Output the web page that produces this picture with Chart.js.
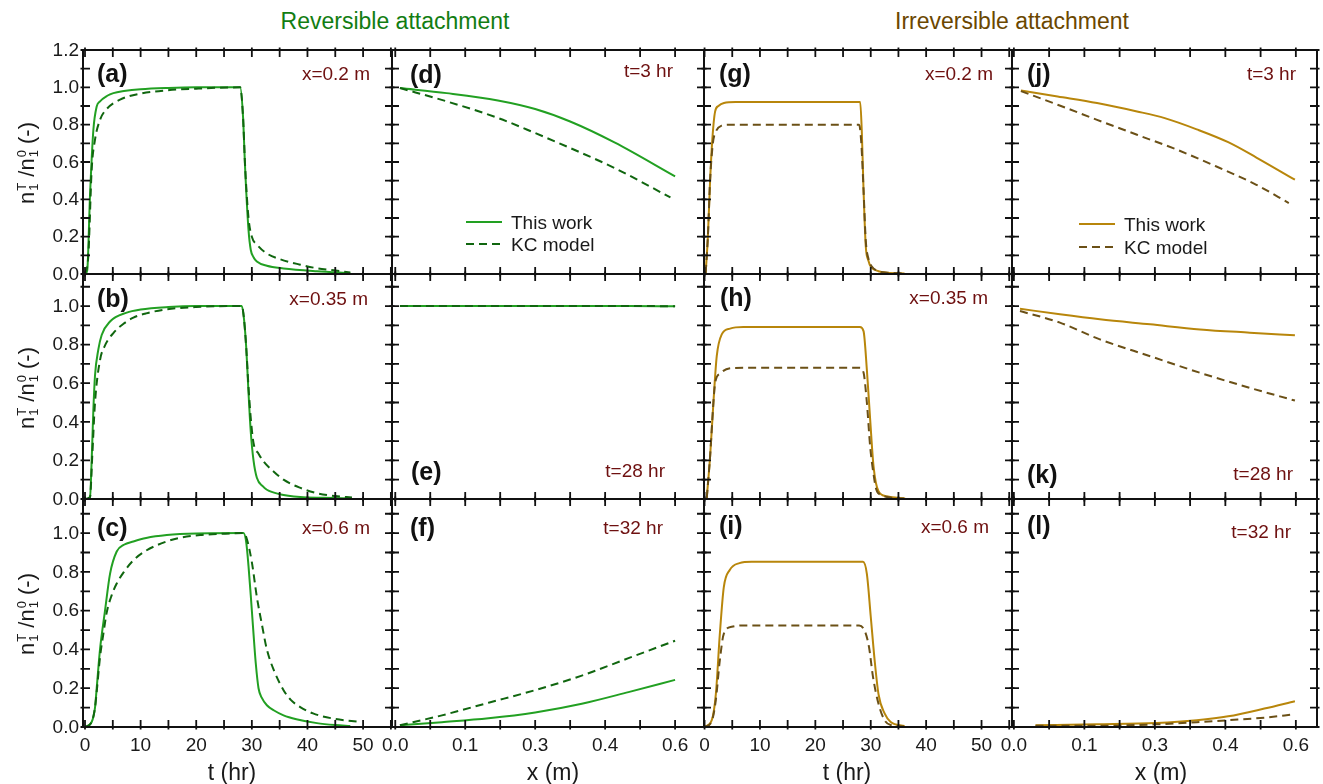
<!DOCTYPE html>
<html><head><meta charset="utf-8">
<script src="https://cdn.jsdelivr.net/npm/chart.js@4.4.1/dist/chart.umd.min.js"></script>
<style>
html,body{margin:0;padding:0;background:#fff;}
#wrap{position:relative;width:1323px;height:784px;overflow:hidden;font-family:"Liberation Sans",Arial,sans-serif;background:#fff;}
canvas{position:absolute;}
.t{position:absolute;white-space:nowrap;line-height:1;}
.lab{font-weight:bold;font-size:25px;color:#111;}
.ann{font-size:19px;color:#6e1010;}
.hdr{font-size:23px;}
.axt{font-size:23px;color:#1a1a1a;}
.leg{font-size:19px;color:#1a1a1a;}
.ytitle{position:absolute;white-space:nowrap;font-size:22px;color:#1a1a1a;line-height:1;transform:translate(-50%,-50%) rotate(-90deg);}
.ss{display:inline-flex;flex-direction:column;font-size:13px;line-height:12px;vertical-align:8px;margin-left:1px;}
svg{position:absolute;overflow:visible;}
</style></head><body><div id="wrap"></div>
<script>
// ---------------- data ----------------
// (a) x = 0.2 m, reversible
const aSolidT = [0,0.4,0.9,1.5,2.1,2.7,4,5.1,7,10,15,20,27.9,28.4,28.8,29.4,29.8,30.3,30.9,32.7,35.7,41.7,47.7];
const aSolidV = [0,0.02,0.42,0.77,0.897,0.925,0.955,0.969,0.98,0.99,0.997,1.0,1.0,0.85,0.56,0.236,0.13,0.09,0.067,0.044,0.03,0.015,0.005];
const aDashT  = [0,0.6,1.2,1.8,2.7,3.9,6.3,9.9,14.7,20,27.9,28.4,28.8,29.4,30,31,32.7,35,38.7,41.5,44.7,47.7];
const aDashV  = [0,0.1,0.56,0.72,0.826,0.884,0.934,0.966,0.984,0.993,1.0,0.85,0.57,0.3,0.2,0.155,0.11,0.08,0.05,0.032,0.02,0.008];
// (b) x = 0.35 m, reversible
const bSolidT = [0,0.9,1.2,1.5,1.8,2.4,3,4.5,7.5,10,15,20,28.2,28.6,29,29.4,29.8,30.3,30.9,32,32.7,35,38.7,43,48];
const bSolidV = [0,0.01,0.2,0.46,0.64,0.775,0.85,0.92,0.966,0.982,0.995,1.0,1.0,0.93,0.78,0.55,0.35,0.2,0.11,0.065,0.048,0.025,0.01,0.006,0.003];
const bDashT  = [0,0.9,1.3,1.8,2.7,3.5,5.1,7,8.7,11,14.7,20,28.2,28.6,29,29.4,29.8,30.3,31.2,32.1,34,35.7,38.5,41.7,45,48];
const bDashV  = [0,0.01,0.22,0.5,0.72,0.79,0.86,0.91,0.94,0.962,0.983,0.995,1.0,0.93,0.78,0.58,0.42,0.29,0.235,0.195,0.14,0.1,0.06,0.03,0.015,0.008];
// (c) x = 0.6 m, reversible
const cSolidT = [0,1.2,1.8,2.1,2.7,3.6,4.5,5.7,7,8.7,11,14.7,20,28.5,29,29.4,29.8,30.3,30.7,31.2,31.8,32.7,34,35.7,38,41.7,45,47.7];
const cSolidV = [0,0.026,0.1,0.2,0.4,0.6,0.79,0.905,0.94,0.957,0.975,0.99,0.998,1.0,0.95,0.83,0.68,0.48,0.33,0.2,0.15,0.112,0.085,0.06,0.04,0.02,0.01,0.005];
const cDashT  = [0,1.2,1.8,2.1,2.7,3.3,3.9,4.8,5.7,7,8.7,11,14.7,17,20.7,25,28.5,29.1,30,30.9,31.8,32.7,34,35.7,37,38.7,41,44.7,49.5];
const cDashV  = [0,0.026,0.1,0.18,0.36,0.48,0.59,0.68,0.74,0.8,0.86,0.91,0.957,0.975,0.99,0.997,1.0,0.97,0.85,0.67,0.53,0.4,0.29,0.19,0.14,0.103,0.07,0.043,0.026];
// (d) t = 3 hr, reversible
const dSolidX = [0.01,0.11,0.22,0.3,0.375,0.47,0.6];
const dSolidV = [0.996,0.969,0.93,0.884,0.817,0.705,0.523];
const dDashX  = [0.01,0.11,0.22,0.3,0.375,0.47,0.59];
const dDashV  = [0.996,0.925,0.836,0.755,0.675,0.568,0.41];
// (e) t = 28 hr, reversible
const eSolidX = [0.01,0.1,0.2,0.3,0.4,0.5,0.6];
const eSolidV = [1.0,1.0,1.0,1.0,1.0,1.0,0.999];
const eDashX  = [0.01,0.1,0.2,0.3,0.4,0.5,0.6];
const eDashV  = [1.0,1.0,1.0,1.0,1.0,1.0,0.999];
// (f) t = 32 hr, reversible
const fSolidX = [0.01,0.1,0.2,0.3,0.4,0.5,0.6];
const fSolidV = [0.009,0.025,0.045,0.075,0.12,0.18,0.243];
const fDashX  = [0.01,0.1,0.2,0.3,0.4,0.5,0.6];
const fDashV  = [0.009,0.06,0.125,0.19,0.265,0.355,0.445];
// (g) x = 0.2 m, irreversible
const gSolidT = [0.2,0.6,1.0,1.4,1.9,2.5,3.5,5.6,28.1,28.4,28.7,29.1,29.6,30,31.4,33,36.1];
const gSolidV = [0.005,0.2,0.5,0.72,0.87,0.9,0.916,0.921,0.921,0.75,0.45,0.15,0.07,0.04,0.015,0.007,0.003];
const gDashT  = [0.2,0.6,1.0,1.5,2.0,3.1,4.5,27.9,28.3,28.7,29.1,29.6,30.2,31.4,33,36];
const gDashV  = [0.005,0.2,0.5,0.7,0.76,0.795,0.8,0.8,0.7,0.45,0.18,0.08,0.04,0.015,0.007,0.003];
// (h) x = 0.35 m, irreversible
const hSolidT = [0.4,1.0,1.6,2.2,3.1,4.6,7,28.05,28.7,29.3,29.9,30.5,31.4,32.9,36.2];
const hSolidV = [0.005,0.22,0.5,0.74,0.853,0.883,0.891,0.891,0.87,0.67,0.41,0.17,0.04,0.014,0.002];
const hDashT  = [0.4,1.0,1.6,1.9,2.8,4.6,7,28,28.7,29.3,29.9,30.5,31,32,34,36];
const hDashV  = [0.005,0.22,0.5,0.6,0.65,0.677,0.68,0.68,0.655,0.5,0.27,0.13,0.05,0.02,0.006,0.002];
// (i) x = 0.6 m, irreversible
const iSolidT = [0,1.3,2.04,2.76,3.47,4.55,6.3,8.5,28.6,29.3,30,30.7,31.4,32.5,33.6,36.1];
const iSolidV = [0,0.035,0.17,0.48,0.72,0.81,0.845,0.852,0.852,0.79,0.57,0.345,0.17,0.07,0.026,0.005];
const iDashT  = [0,1.3,2.04,2.76,3.47,4.9,7.8,27.9,29.0,29.7,30.4,31.4,32.5,33.6,36];
const iDashV  = [0,0.03,0.14,0.345,0.48,0.517,0.524,0.524,0.49,0.41,0.26,0.12,0.035,0.01,0.003];
// (j) t = 3 hr, irreversible
const jSolidX = [0.015,0.093,0.177,0.262,0.321,0.389,0.456,0.516,0.598];
const jSolidV = [0.983,0.951,0.916,0.871,0.835,0.775,0.706,0.624,0.505];
const jDashX  = [0.015,0.093,0.177,0.262,0.347,0.431,0.516,0.585];
const jDashV  = [0.98,0.907,0.826,0.746,0.666,0.576,0.478,0.38];
// (k) t = 28 hr, irreversible
const kSolidX = [0.013,0.098,0.183,0.29,0.396,0.502,0.598];
const kSolidV = [0.986,0.957,0.931,0.905,0.879,0.862,0.848];
const kDashX  = [0.013,0.098,0.183,0.29,0.396,0.502,0.598];
const kDashV  = [0.974,0.914,0.827,0.74,0.654,0.576,0.51];
// (l) t = 32 hr, irreversible
const lSolidX = [0.046,0.177,0.304,0.389,0.456,0.533,0.598];
const lSolidV = [0.009,0.014,0.021,0.035,0.055,0.095,0.133];
const lDashX  = [0.046,0.177,0.304,0.389,0.456,0.533,0.598];
const lDashV  = [0.006,0.006,0.014,0.025,0.035,0.048,0.066];

// ticks and tick labels
const tTicks = [0,5,10,15,20,25,30,35,40,45,50,55];
const xTicks = [0,0.075,0.15,0.225,0.3,0.375,0.45,0.525,0.6];
const yTicks = [0,0.1,0.2,0.3,0.4,0.5,0.6,0.7,0.8,0.9,1.0,1.1,1.2];
const tLabelValues = [0,10,20,30,40,50];
const tLabels = ['0','10','20','30','40','50'];
const xLabelValues = [0,0.15,0.3,0.45,0.6];
const xLabels = ['0.0','0.1','0.3','0.4','0.6'];
const yLabelValuesTop = [0,0.2,0.4,0.6,0.8,1.0,1.2];
const yLabelsTop = ['0.0','0.2','0.4','0.6','0.8','1.0','1.2'];
const yLabelValues = [0,0.2,0.4,0.6,0.8,1.0];
const yLabels = ['0.0','0.2','0.4','0.6','0.8','1.0'];

// ---------------- layout ----------------
const colLeft  = [83, 392, 704, 1012];
const colRight = [392, 704, 1012, 1317];
const rowTop    = [50, 274, 499];
const rowBottom = [274, 499, 727];
const xRanges = [[-0.36,55.2],[-0.007,0.662],[-0.1,55.5],[-0.004,0.645]];
const yRanges = [[0,1.2],[0,1.166],[0,1.176]];
const COLORS = {
  green: {solid:'#22a022', dash:'#10660f'},
  brown: {solid:'#b8860b', dash:'#6b5016'}
};

const panels = [
  {r:0,c:0,fam:'green',s:[aSolidT,aSolidV],d:[aDashT,aDashV]},
  {r:1,c:0,fam:'green',s:[bSolidT,bSolidV],d:[bDashT,bDashV]},
  {r:2,c:0,fam:'green',s:[cSolidT,cSolidV],d:[cDashT,cDashV]},
  {r:0,c:1,fam:'green',s:[dSolidX,dSolidV],d:[dDashX,dDashV]},
  {r:1,c:1,fam:'green',s:[eSolidX,eSolidV],d:[eDashX,eDashV]},
  {r:2,c:1,fam:'green',s:[fSolidX,fSolidV],d:[fDashX,fDashV]},
  {r:0,c:2,fam:'brown',s:[gSolidT,gSolidV],d:[gDashT,gDashV]},
  {r:1,c:2,fam:'brown',s:[hSolidT,hSolidV],d:[hDashT,hDashV]},
  {r:2,c:2,fam:'brown',s:[iSolidT,iSolidV],d:[iDashT,iDashV]},
  {r:0,c:3,fam:'brown',s:[jSolidX,jSolidV],d:[jDashX,jDashV]},
  {r:1,c:3,fam:'brown',s:[kSolidX,kSolidV],d:[kDashX,kDashV]},
  {r:2,c:3,fam:'brown',s:[lSolidX,lSolidV],d:[lDashX,lDashV]}
];

const framePlugin = {
  id: 'frame',
  afterDatasetsDraw(chart) {
    const p = chart.options.plugins.frame;
    const {ctx, chartArea: a} = chart;
    const xs = chart.scales.x, ys = chart.scales.y;
    const IN = 7, OUT = 2.5;
    ctx.save();
    ctx.strokeStyle = '#111';
    ctx.lineWidth = 2;
    ctx.strokeRect(a.left, a.top, a.right - a.left, a.bottom - a.top);
    ctx.lineWidth = 1.8;
    ctx.beginPath();
    p.yTicks.forEach(v => {
      const py = ys.getPixelForValue(v);
      if (py < a.top - 0.6 || py > a.bottom + 0.6) return;
      ctx.moveTo(a.left - OUT, py); ctx.lineTo(a.left + IN, py);
      ctx.moveTo(a.right - IN, py); ctx.lineTo(a.right + OUT, py);
    });
    p.xTicks.forEach(v => {
      const px = xs.getPixelForValue(v);
      if (px < a.left - 0.6 || px > a.right + 0.6) return;
      ctx.moveTo(px, a.bottom + OUT); ctx.lineTo(px, a.bottom - IN);
      ctx.moveTo(px, a.top - OUT); ctx.lineTo(px, a.top + IN);
    });
    ctx.stroke();
    ctx.fillStyle = '#1a1a1a';
    ctx.font = '19px "Liberation Sans", Arial, sans-serif';
    if (p.yLab) {
      ctx.textAlign = 'right'; ctx.textBaseline = 'middle';
      p.yLab.values.forEach((v, i) => ctx.fillText(p.yLab.text[i], a.left - 4, ys.getPixelForValue(v) + 0.5));
    }
    if (p.xLab) {
      ctx.textAlign = 'center'; ctx.textBaseline = 'middle';
      p.xLab.values.forEach((v, i) => ctx.fillText(p.xLab.text[i], xs.getPixelForValue(v), a.bottom + 19));
    }
    ctx.restore();
  }
};

const wrap = document.getElementById('wrap');
panels.forEach(P => {
  const padL = P.c === 0 ? 80 : 12, padR = 12, padT = 12, padB = P.r === 2 ? 40 : 12;
  const w = colRight[P.c] - colLeft[P.c] + padL + padR;
  const h = rowBottom[P.r] - rowTop[P.r] + padT + padB;
  const cv = document.createElement('canvas');
  cv.width = w; cv.height = h;
  cv.style.left = (colLeft[P.c] - padL) + 'px';
  cv.style.top = (rowTop[P.r] - padT) + 'px';
  cv.style.width = w + 'px'; cv.style.height = h + 'px';
  wrap.appendChild(cv);
  const col = COLORS[P.fam];
  const isTime = (P.c === 0 || P.c === 2);
  const pts = (xa, va) => xa.map((x, i) => ({x: x, y: va[i]}));
  new Chart(cv, {
    type: 'line',
    data: { datasets: [
      { label: 'KC model', data: pts(P.d[0], P.d[1]), borderColor: col.dash, borderWidth: 2, borderDash: [8,5], pointRadius: 0, fill: false, cubicInterpolationMode: 'monotone' },
      { label: 'This work', data: pts(P.s[0], P.s[1]), borderColor: col.solid, borderWidth: 2, pointRadius: 0, fill: false, cubicInterpolationMode: 'monotone' }
    ]},
    options: {
      responsive: false, animation: false, events: [],
      devicePixelRatio: 1,
      layout: { padding: { left: padL, right: padR, top: padT, bottom: padB } },
      scales: {
        x: { type: 'linear', display: false, min: xRanges[P.c][0], max: xRanges[P.c][1] },
        y: { type: 'linear', display: false, min: yRanges[P.r][0], max: yRanges[P.r][1] }
      },
      plugins: {
        legend: { display: false }, tooltip: { enabled: false }, title: { display: false },
        frame: {
          xTicks: isTime ? tTicks : xTicks,
          yTicks: yTicks,
          yLab: P.c === 0 ? (P.r === 0 ? {values: yLabelValuesTop, text: yLabelsTop} : {values: yLabelValues, text: yLabels}) : null,
          xLab: P.r === 2 ? (isTime ? {values: tLabelValues, text: tLabels} : {values: xLabelValues, text: xLabels}) : null
        }
      }
    },
    plugins: [framePlugin]
  });
});

// ---------------- texts ----------------
function addText(cls, txt, opt) {
  const d = document.createElement('div');
  d.className = 't ' + cls;
  d.innerHTML = txt;
  if (opt.color) d.style.color = opt.color;
  if (opt.left !== undefined) d.style.left = opt.left + 'px';
  if (opt.right !== undefined) d.style.right = (1323 - opt.right) + 'px';
  if (opt.cx !== undefined) { d.style.left = opt.cx + 'px'; }
  d.style.top = opt.cy + 'px';
  d.style.transform = opt.cx !== undefined ? 'translate(-50%,-50%)' : 'translateY(-50%)';
  wrap.appendChild(d);
}
addText('hdr', 'Reversible attachment', {cx: 395, cy: 21, color: '#127d12'});
addText('hdr', 'Irreversible attachment', {cx: 1012, cy: 21, color: '#6b4700'});

const letters = [
  ['(a)',97,73],['(b)',97,298],['(c)',97,527],
  ['(d)',410,74],['(e)',411,471],['(f)',410,527],
  ['(g)',719,73],['(h)',720,297],['(i)',719,525],
  ['(j)',1027,73],['(k)',1027,474],['(l)',1027,525]
];
letters.forEach(l => addText('lab', l[0], {left: l[1], cy: l[2]}));

const anns = [
  ['x=0.2 m',370,73],['x=0.35 m',368,298],['x=0.6 m',370,527],
  ['t=3 hr',673,70],['t=28 hr',665,470],['t=32 hr',663,527],
  ['x=0.2 m',993,73],['x=0.35 m',988,297],['x=0.6 m',989,526],
  ['t=3 hr',1296,73],['t=28 hr',1293,473],['t=32 hr',1291,531]
];
anns.forEach(a => addText('ann', a[0], {right: a[1], cy: a[2]}));

addText('axt', 't (hr)', {cx: 232, cy: 772});
addText('axt', 'x (m)', {cx: 553, cy: 772});
addText('axt', 't (hr)', {cx: 847, cy: 772});
addText('axt', 'x (m)', {cx: 1161, cy: 772});

const ylab = 'n<span class="ss"><span>T</span><span>1</span></span> /n<span class="ss"><span>0</span><span>1</span></span> (-)';
[[28,163],[28,388],[28,614]].forEach(p => {
  const d = document.createElement('div');
  d.className = 'ytitle';
  d.innerHTML = ylab;
  d.style.left = p[0] + 'px'; d.style.top = p[1] + 'px';
  wrap.appendChild(d);
});

// legends in (d) and (j)
function legend(x1, x2, y1, y2, tx, fam) {
  const col = COLORS[fam];
  const svg = document.createElementNS('http://www.w3.org/2000/svg', 'svg');
  svg.setAttribute('width', '1'); svg.setAttribute('height', '1');
  svg.style.left = '0px'; svg.style.top = '0px';
  svg.innerHTML = `<line x1="${x1}" y1="${y1}" x2="${x2}" y2="${y1}" stroke="${col.solid}" stroke-width="2"/>` +
    `<line x1="${x1}" y1="${y2}" x2="${x2}" y2="${y2}" stroke="${col.dash}" stroke-width="2" stroke-dasharray="8,5"/>`;
  wrap.appendChild(svg);
  addText('leg', 'This work', {left: tx, cy: y1});
  addText('leg', 'KC model', {left: tx, cy: y2});
}
legend(466, 502, 222, 244, 511, 'green');
legend(1079, 1115, 224, 247, 1124, 'brown');
</script>
</body></html>
